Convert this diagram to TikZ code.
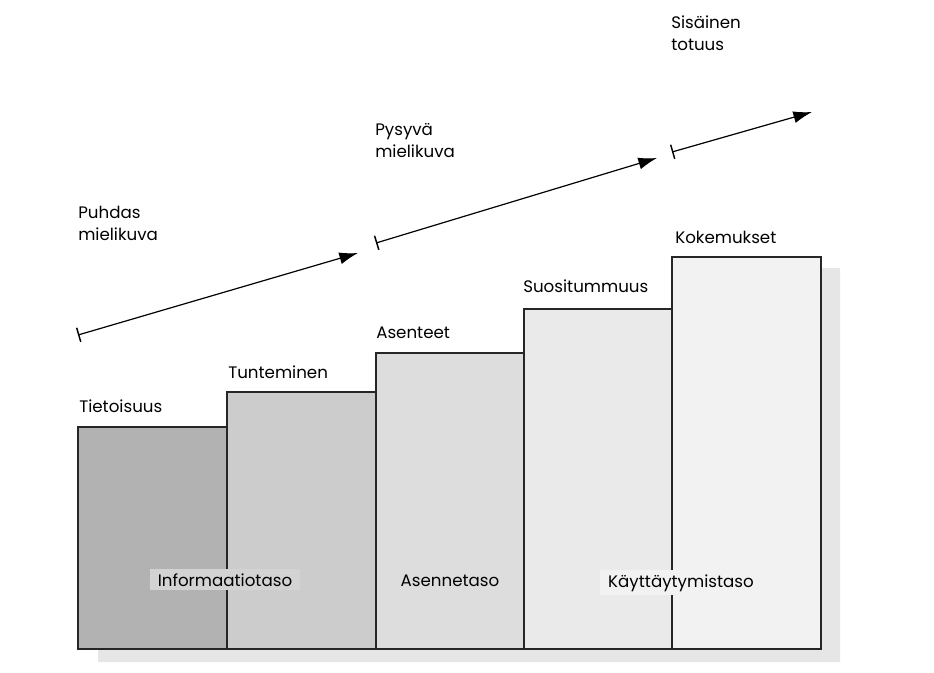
\documentclass[tikz,border=0pt]{standalone}
\usepackage{fontspec}
\setmainfont{Poppins}
\usetikzlibrary{arrows.meta}

\definecolor{shadowgray}{HTML}{E6E6E6}
\definecolor{barA}{HTML}{B2B2B2}
\definecolor{barB}{HTML}{CCCCCC}
\definecolor{barC}{HTML}{DDDDDD}
\definecolor{barD}{HTML}{EAEAEA}
\definecolor{barE}{HTML}{F2F2F2}
\definecolor{tagA}{HTML}{D3D3D3}

\tikzset{
  lbl/.style={anchor=base west, inner sep=0pt, align=left, font=\fontsize{12.5}{16.5}\selectfont},
  tag/.style={anchor=base, inner xsep=6pt, inner ysep=3pt, font=\fontsize{12.5}{16.5}\selectfont},
  bar/.style={draw=black!85, line width=0.8pt},
  rise/.style={{Bar[width=11pt,line width=1.1pt]}-{Latex[length=14pt,width=9pt]}, line width=0.9pt},
}

\begin{document}
\begin{tikzpicture}[x=0.75pt,y=-0.75pt]
\useasboundingbox (0,0) rectangle (934,672);

%% shadow
\fill[shadowgray] (98,439) -- (247,439) -- (247,404) -- (396,404) -- (396,365) -- (543,365)
  -- (543,321) -- (693,321) -- (693,268) -- (840,268) -- (840,662) -- (98,662) -- cycle;

%% bars
\draw[bar, fill=barA] (78,427) rectangle (227,649);   %% tietoisuus
\draw[bar, fill=barB] (227,392) rectangle (376,649);  %% tunteminen
\draw[bar, fill=barC] (376,353) rectangle (524,649);  %% asenteet
\draw[bar, fill=barD] (524,309) rectangle (672,649);  %% suositummuus
\draw[bar, fill=barE] (672,257) rectangle (821,649);  %% kokemukset

%% bar labels
\node[lbl] (tietoisuus) at (79,412) {Tietoisuus};
\node[lbl] (tunteminen) at (228,378) {Tunteminen};
\node[lbl] (asenteet) at (376,338) {Asenteet};
\node[lbl] (suosio) at (523,292) {Suositummuus};
\node[lbl] (kokemukset) at (675,243) {Kokemukset};

%% level labels
\node[tag, fill=tagA] (info) at (225,586) {Informaatiotaso};
\node[tag] (asenne) at (450,586) {Asennetaso};
\node[tag, fill=barE] (kaytos) at (681,587) {Käyttäytymistaso};

%% image labels
\node[lbl] (puhdas) at (78,240) {Puhdas\\mielikuva};
\node[lbl] (pysyva) at (375,157) {Pysyvä\\mielikuva};
\node[lbl] (sisainen) at (671,50) {Sisäinen\\totuus};

%% arrows
\coordinate (s1) at (78,335);
\coordinate (e1) at (358,253);
\coordinate (s2) at (376,243);
\coordinate (e2) at (657,158);
\coordinate (s3) at (672,152);
\coordinate (e3) at (812,112);
\draw[rise] (s1) -- (e1);   %% puhdas
\draw[rise] (s2) -- (e2);   %% pysyva
\draw[rise] (s3) -- (e3);   %% sisainen
\end{tikzpicture}
\end{document}
